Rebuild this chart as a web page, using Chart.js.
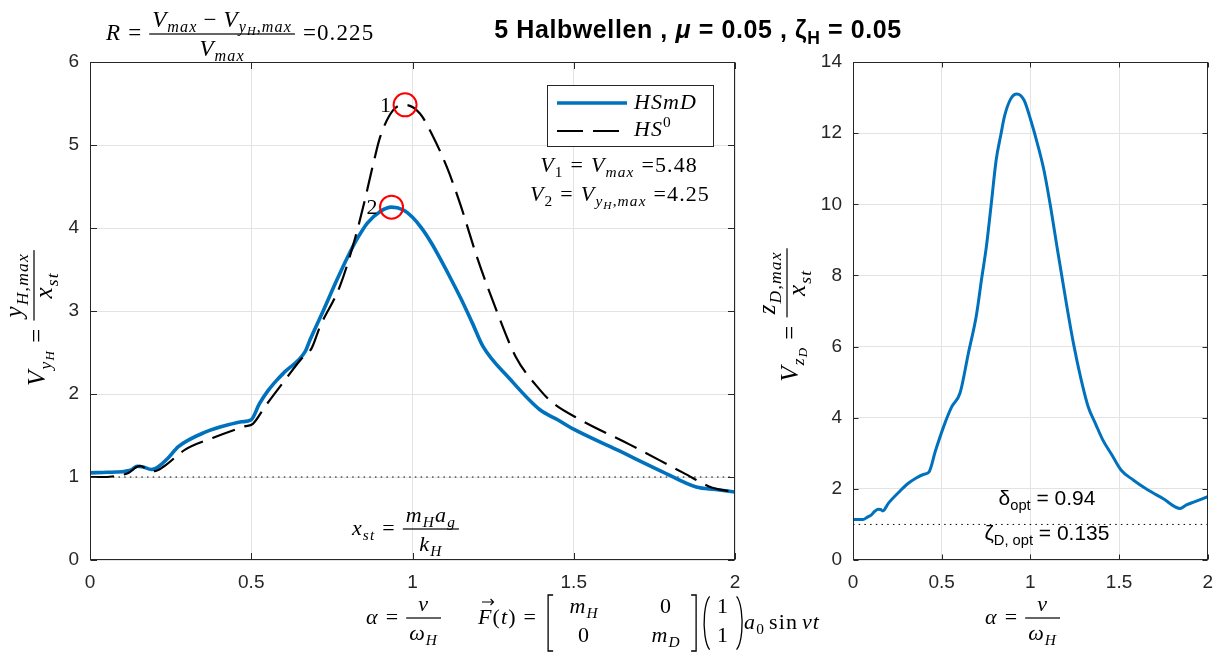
<!DOCTYPE html>
<html>
<head>
<meta charset="utf-8">
<script src="https://cdn.jsdelivr.net/npm/chart.js@4.4.1/dist/chart.umd.min.js"></script>
<style>
  html, body { margin: 0; padding: 0; background: #fff; }
  #wrap { position: relative; width: 1224px; height: 655px; }
  #wrap canvas { position: absolute; left: 0; top: 0; }
</style>
</head>
<body>
<div id="wrap">
  <canvas id="left" width="1224" height="655"></canvas>
  <canvas id="right" width="1224" height="655"></canvas>
</div>
<script>
// frequency ratio alpha = nu / omega_H and amplification of the main structure
const alphaHSmD = [0, 0.04, 0.08, 0.11, 0.13, 0.146, 0.165, 0.19, 0.207, 0.24, 0.274, 0.357, 0.44, 0.47, 0.50,
  0.525, 0.552, 0.58, 0.605, 0.667, 0.682, 0.724, 0.765, 0.80, 0.83, 0.86, 0.90, 0.935, 0.97, 1.00, 1.03,
  1.06, 1.09, 1.12, 1.15, 1.185, 1.219, 1.30, 1.395, 1.45, 1.498, 1.633, 1.777, 1.88, 1.94, 2.0];
const vHSmD = [1.05, 1.055, 1.06, 1.07, 1.09, 1.13, 1.12, 1.09, 1.11, 1.22, 1.365, 1.54, 1.64, 1.665, 1.69,
  1.88, 2.04, 2.17, 2.27, 2.51, 2.65, 3.01, 3.37, 3.66, 3.88, 4.06, 4.20, 4.251, 4.22, 4.13, 3.99,
  3.81, 3.60, 3.38, 3.15, 2.86, 2.57, 2.19, 1.81, 1.69, 1.58, 1.33, 1.06, 0.88, 0.85, 0.82];

// same structure without damper
const alphaHS0 = [0, 0.05, 0.09, 0.12, 0.14, 0.155, 0.17, 0.185, 0.20, 0.23, 0.295, 0.38, 0.48, 0.505,
  0.543, 0.605, 0.657, 0.687, 0.713, 0.775, 0.82, 0.85, 0.88, 0.90, 0.94, 0.977, 1.023, 1.064, 1.107,
  1.147, 1.20, 1.26, 1.32, 1.395, 1.436, 1.52, 1.674, 1.84, 1.93, 2.0];
const vHS0 = [1.0, 1.0, 1.02, 1.05, 1.11, 1.135, 1.11, 1.07, 1.07, 1.13, 1.33, 1.47, 1.61, 1.64,
  1.85, 2.17, 2.43, 2.55, 2.81, 3.30, 3.85, 4.30, 4.80, 5.10, 5.42, 5.484, 5.38, 5.10, 4.73,
  4.30, 3.65, 3.01, 2.45, 2.05, 1.89, 1.69, 1.39, 1.05, 0.87, 0.82];

// damper mass amplification
const alphaZD = [0, 0.057, 0.08, 0.104, 0.125, 0.141, 0.155, 0.168, 0.2, 0.261, 0.31, 0.354, 0.40, 0.428,
  0.465, 0.511, 0.557, 0.604, 0.65, 0.696, 0.725, 0.752, 0.78, 0.807, 0.835, 0.854, 0.89, 0.924, 0.964,
  1.002, 1.04, 1.076, 1.115, 1.15, 1.20, 1.243, 1.285, 1.326, 1.37, 1.409, 1.46, 1.511, 1.58, 1.65,
  1.75, 1.844, 1.88, 1.928, 2.0];
const vZD = [1.14, 1.14, 1.2, 1.27, 1.38, 1.43, 1.42, 1.38, 1.6, 1.92, 2.15, 2.30, 2.41, 2.47,
  3.07, 3.75, 4.31, 4.70, 5.8, 6.89, 7.9, 8.81, 10.03, 11.24, 11.99, 12.47, 12.97, 13.10, 12.93,
  12.37, 11.7, 10.97, 9.9, 8.81, 7.3, 6.09, 5.1, 4.31, 3.8, 3.37, 2.95, 2.53, 2.25, 2.01,
  1.72, 1.45, 1.55, 1.64, 1.78];

// static reference line V = 1
const refAlpha = [0, 2];
const refV = [1, 1];

// peaks: 1 = without damper, 2 = with damper
const peakAlpha = [0.977, 0.935];
const peakV = [5.484, 4.251];
const peakNames = ['1', '2'];

const ticksAlpha = [0, 0.5, 1, 1.5, 2];
const ticksVyH = [0, 1, 2, 3, 4, 5, 6];
const ticksVzD = [0, 2, 4, 6, 8, 10, 12, 14];

const halfWaves = 5;
const mu = 0.05;
const zetaH = 0.05;
const deltaOpt = 0.94;
const zetaDOpt = 0.135;

const blue = '#0072BD';
const ink = '#262626';
const gridGray = '#e3e3e3';
const serif = '"Liberation Serif", "Times New Roman", serif';
const sans = '"Liberation Sans", Arial, sans-serif';

const pts = (xs, ys) => xs.map((x, i) => ({ x, y: ys[i] }));

// ---- small math-text helpers (canvas text runs with sub/superscripts) ----
const I = (t, lv = 0) => ({ t, it: true, lv });
const U = (t, lv = 0) => ({ t, it: false, lv });
const SP = w => ({ sp: w });

function runs(ctx, list, x, y, base, draw) {
  let cx = x;
  ctx.letterSpacing = (base.track || 0) + 'px';
  list.forEach(r => {
    if (r.sp) { cx += r.sp; return; }
    const lv = r.lv || 0;
    const k = lv === 0 ? 1 : (lv === 2 ? 0.52 : 0.7);
    const dy = lv === 1 ? 0.22 : lv === 2 ? 0.36 : lv === -1 ? -0.4 : 0;
    ctx.font = (r.it ? 'italic ' : '') + (base.bold ? 'bold ' : '') +
      (base.size * k).toFixed(1) + 'px ' + (r.fam || base.fam);
    if (draw) ctx.fillText(r.t, cx, y + dy * base.size);
    cx += ctx.measureText(r.t).width;
  });
  ctx.letterSpacing = '0px';
  return cx - x;
}

const DISPLAY = { lift: 6, up: 7, down: 22 };

function fracWidth(ctx, num, den, base) {
  return Math.max(runs(ctx, num, 0, 0, base, false), runs(ctx, den, 0, 0, base, false)) + 6;
}

function frac(ctx, num, den, x, bar, base, geo = DISPLAY) {
  const wn = runs(ctx, num, 0, 0, base, false);
  const wd = runs(ctx, den, 0, 0, base, false);
  const w = Math.max(wn, wd) + 6;
  runs(ctx, num, x + (w - wn) / 2, bar - geo.up, base, true);
  runs(ctx, den, x + (w - wd) / 2, bar + geo.down, base, true);
  ctx.fillRect(x, bar - 0.6, w, 1.2);
  return w;
}

// "lhs = num/den" on one baseline, returns total width
function eqFrac(ctx, lhs, num, den, x, baseline, base, draw, geo = DISPLAY) {
  const wl = runs(ctx, lhs, x, baseline, base, draw);
  const wf = fracWidth(ctx, num, den, base);
  if (draw) frac(ctx, num, den, x + wl, baseline - geo.lift, base, geo);
  return wl + wf;
}

const math = { size: 22, fam: serif, track: 1.1 };
const mathR = { size: 23, fam: serif, track: 1.1 };
const mathY = { size: 25, fam: serif, track: 1.2 };
const YGEO = { lift: 11, up: 12, down: 18 };
const EQ = [SP(7), U('='), SP(7)];

// ---- axes frame with inward ticks on all four sides ----
function framePlugin(len) {
  return {
    id: 'frame',
    afterDatasetsDraw(chart) {
      const { ctx, chartArea: a, scales } = chart;
      const L = Math.round(a.left) + 0.5, R = Math.round(a.right) - 0.5;
      const T = Math.round(a.top) + 0.5, B = Math.round(a.bottom) - 0.5;
      ctx.save();
      ctx.strokeStyle = ink;
      ctx.lineWidth = 1;
      ctx.setLineDash([]);
      ctx.beginPath();
      scales.x.ticks.forEach(t => {
        const p = Math.round(scales.x.getPixelForValue(t.value)) + 0.5;
        ctx.moveTo(p, B); ctx.lineTo(p, B - len);
        ctx.moveTo(p, T); ctx.lineTo(p, T + len);
      });
      scales.y.ticks.forEach(t => {
        const p = Math.round(scales.y.getPixelForValue(t.value)) + 0.5;
        ctx.moveTo(L, p); ctx.lineTo(L + len, p);
        ctx.moveTo(R, p); ctx.lineTo(R - len, p);
      });
      ctx.stroke();
      ctx.strokeRect(L, T, R - L, B - T);
      ctx.restore();
    }
  };
}

function overlay(drawFn) {
  return { id: 'overlay', afterDraw(chart) { chart.ctx.save(); drawFn(chart.ctx, chart); chart.ctx.restore(); } };
}

function axis(ticksArr, min, max, fit) {
  return {
    type: 'linear',
    min, max,
    afterBuildTicks: ax => { ax.ticks = ticksArr.map(v => ({ value: v })); },
    afterFit: fit,
    ticks: {
      autoSkip: false, maxRotation: 0, padding: 11,
      color: ink,
      font: { family: 'Liberation Sans', size: 19 },
      callback: v => String(v)
    },
    grid: { color: gridGray, lineWidth: 1, drawTicks: false },
    border: { display: false }
  };
}

const baseOptions = {
  responsive: false,
  animation: false,
  devicePixelRatio: 1,
  plugins: { legend: { display: false }, tooltip: { enabled: false }, title: { display: false } },
  elements: { point: { radius: 0 } }
};

// ---- left axes: main structure ----
new Chart(document.getElementById('left'), {
  type: 'line',
  data: {
    datasets: [
      {
        label: 'peaks', data: pts(peakAlpha, peakV), showLine: false,
        pointRadius: 11.5, pointBorderColor: '#ff0000', pointBorderWidth: 2,
        pointBackgroundColor: 'rgba(0,0,0,0)'
      },
      {
        label: 'HS0', data: pts(alphaHS0, vHS0), borderColor: '#000', borderWidth: 2.2,
        borderDash: [24, 10], cubicInterpolationMode: 'monotone', pointRadius: 0
      },
      {
        label: 'HSmD', data: pts(alphaHSmD, vHSmD), borderColor: blue, borderWidth: 3.6,
        cubicInterpolationMode: 'monotone', pointRadius: 0
      },
      {
        label: 'ref', data: pts(refAlpha, refV), borderColor: '#000', borderWidth: 1,
        borderDash: [1.5, 4.2], pointRadius: 0
      }
    ]
  },
  options: {
    ...baseOptions,
    layout: { padding: { left: 0, right: 489, top: 62, bottom: 0 } },
    scales: {
      x: axis(ticksAlpha, 0, 2, ax => { ax.height = 95; }),
      y: axis(ticksVyH, 0, 6, ax => { ax.width = 90; })
    }
  },
  plugins: [framePlugin(6.5), overlay((ctx, chart) => {
    const { x, y } = chart.scales;
    ctx.fillStyle = '#000';
    ctx.textBaseline = 'alphabetic';

    // peak numbers next to the circles
    ctx.font = '22px ' + serif;
    ctx.textAlign = 'right';
    peakNames.forEach((n, i) => {
      ctx.fillText(n, x.getPixelForValue(peakAlpha[i]) - 14, y.getPixelForValue(peakV[i]) + 7);
    });
    ctx.textAlign = 'left';

    // legend
    const lx = 547, ly = 85, lw = 166, lh = 61;
    ctx.fillStyle = '#fff';
    ctx.fillRect(lx, ly, lw, lh);
    ctx.strokeStyle = ink; ctx.lineWidth = 1;
    ctx.strokeRect(lx + 0.5, ly + 0.5, lw, lh);
    ctx.lineWidth = 3.6; ctx.strokeStyle = blue;
    ctx.beginPath(); ctx.moveTo(557, 103); ctx.lineTo(627, 103); ctx.stroke();
    ctx.lineWidth = 2.2; ctx.strokeStyle = '#000'; ctx.setLineDash([26, 10]);
    ctx.beginPath(); ctx.moveTo(557, 131); ctx.lineTo(627, 131); ctx.stroke();
    ctx.setLineDash([]);
    ctx.fillStyle = '#000';
    runs(ctx, [I('HSmD')], 634, 109, math, true);
    runs(ctx, [I('HS'), U('0', -1)], 634, 136, math, true);

    // peak values
    const Vmax = [I('V'), I('max', 1)];
    const VyHmax = [I('V'), I('y', 1), I('H', 2), U(',', 1), I('max', 1)];
    const line1 = [I('V'), U('1', 1), ...EQ, ...Vmax, ...EQ.slice(0, 2), U(peakV[0].toFixed(2))];
    const line2 = [I('V'), U('2', 1), ...EQ, ...VyHmax, ...EQ.slice(0, 2), U(peakV[1].toFixed(2))];
    const w1 = runs(ctx, line1, 0, 0, math, false);
    const w2 = runs(ctx, line2, 0, 0, math, false);
    runs(ctx, line1, 619 - w1 / 2, 172, math, true);
    runs(ctx, line2, 620 - w2 / 2, 201, math, true);

    // reduction ratio R
    const ratio = (peakV[0] - peakV[1]) / peakV[0];
    let cx = 106;
    cx += runs(ctx, [I('R'), ...EQ], cx, 40, mathR, true);
    cx += frac(ctx, [...Vmax, SP(6), U('\u2212'), SP(6), ...VyHmax], Vmax, cx, 34, mathR);
    runs(ctx, [SP(8), U('='), U(ratio.toFixed(3))], cx, 40, mathR, true);

    // static deflection
    eqFrac(ctx, [I('x'), I('st', 1), ...EQ], [I('m'), I('H', 1), I('a'), I('g', 1)],
      [I('k'), I('H', 1)], 352, 535, math, true);

    // y axis label, rotated
    const lhsL = [I('V'), I('y', 1), I('H', 2), ...EQ];
    const numL = [I('y'), I('H', 1), U(',', 1), I('max', 1)];
    const denL = [I('x'), I('st', 1)];
    const wy = eqFrac(ctx, lhsL, numL, denL, 0, 0, mathY, false, YGEO);
    ctx.translate(45, 318);
    ctx.rotate(-Math.PI / 2);
    eqFrac(ctx, lhsL, numL, denL, -wy / 2, 0, mathY, true, YGEO);
    ctx.setTransform(1, 0, 0, 1, 0, 0);

    // x axis label and load vector
    eqFrac(ctx, [I('\u03b1'), ...EQ], [I('\u03bd')], [I('\u03c9'), I('H', 1)], 366, 624, math, true);

    cx = 478;
    const fw = runs(ctx, [I('F')], cx, 624, math, true);
    ctx.strokeStyle = '#000'; ctx.lineWidth = 1.1;
    ctx.beginPath(); ctx.moveTo(cx + 4, 602); ctx.lineTo(cx + fw + 1, 602);
    ctx.moveTo(cx + fw - 2, 599); ctx.lineTo(cx + fw + 1, 602); ctx.lineTo(cx + fw - 2, 605);
    ctx.stroke();
    cx += fw;
    cx += runs(ctx, [U('('), I('t'), U(')'), ...EQ], cx, 624, math, true);

    // mass matrix brackets
    const top = 595, bot = 651;
    ctx.lineWidth = 1.3;
    ctx.beginPath();
    ctx.moveTo(cx + 9, top); ctx.lineTo(cx + 4, top); ctx.lineTo(cx + 4, bot); ctx.lineTo(cx + 9, bot);
    ctx.stroke();
    const c1 = cx + 40, c2 = cx + 122;
    const row1 = 613, row2 = 642;
    const put = (list, cxm, by) => {
      const w = runs(ctx, list, 0, 0, math, false);
      runs(ctx, list, cxm - w / 2, by, math, true);
    };
    put([I('m'), I('H', 1)], c1, row1);
    put([U('0')], c2, row1);
    put([U('0')], c1, row2);
    put([I('m'), I('D', 1)], c2, row2);
    const rb = cx + 152;
    ctx.beginPath();
    ctx.moveTo(rb - 5, top); ctx.lineTo(rb, top); ctx.lineTo(rb, bot); ctx.lineTo(rb - 5, bot);
    ctx.stroke();

    // unit vector in parentheses
    const pl = rb + 8, pr = rb + 46;
    ctx.beginPath();
    ctx.ellipse(pl + 8, (top + bot) / 2, 8, (bot - top) / 2, 0, Math.PI * 0.6, Math.PI * 1.4);
    ctx.stroke();
    ctx.beginPath();
    ctx.ellipse(pr - 8, (top + bot) / 2, 8, (bot - top) / 2, 0, -Math.PI * 0.4, Math.PI * 0.4);
    ctx.stroke();
    put([U('1')], (pl + pr) / 2, row1);
    put([U('1')], (pl + pr) / 2, row2);
    runs(ctx, [I('a'), U('0', 1), SP(4), U('sin'), SP(4), I('\u03bd'), I('t')], pr + 2, 629, math, true);

    // figure title
    const tb = { size: 25, fam: sans, bold: true, track: 0.6 };
    const title = [U(halfWaves + ' Halbwellen , '), I('\u03bc'), U(' = ' + mu.toFixed(2) + ' , '),
      U('\u03b6'), U('H', 1), U(' = ' + zetaH.toFixed(2))];
    const tw = runs(ctx, title, 0, 0, tb, false);
    runs(ctx, title, 698 - tw / 2, 38, tb, true);
  })]
});

// ---- right axes: damper mass ----
new Chart(document.getElementById('right'), {
  type: 'line',
  data: {
    datasets: [
      {
        label: 'zD', data: pts(alphaZD, vZD), borderColor: blue, borderWidth: 3,
        cubicInterpolationMode: 'monotone', pointRadius: 0
      },
      {
        label: 'ref', data: pts(refAlpha, refV), borderColor: '#000', borderWidth: 1,
        borderDash: [1.5, 4.2], pointRadius: 0
      }
    ]
  },
  options: {
    ...baseOptions,
    layout: { padding: { left: 763, right: 11, top: 62, bottom: 0 } },
    scales: {
      x: axis(ticksAlpha, 0, 2, ax => { ax.height = 95; }),
      y: axis(ticksVzD, 0, 14, ax => { ax.width = 90; })
    }
  },
  plugins: [framePlugin(5), overlay(ctx => {
    ctx.fillStyle = '#000';
    ctx.textAlign = 'left';
    ctx.textBaseline = 'alphabetic';

    // optimal damper parameters
    const tx = { size: 21, fam: sans };
    const d = [U('\u03b4'), U('opt', 1), U(' = ' + deltaOpt.toFixed(2))];
    const z = [U('\u03b6'), U('D, opt', 1), U(' = ' + zetaDOpt.toFixed(3))];
    const wd = runs(ctx, d, 0, 0, tx, false);
    const wz = runs(ctx, z, 0, 0, tx, false);
    runs(ctx, d, 1047 - wd / 2, 505, tx, true);
    runs(ctx, z, 1047 - wz / 2, 540, tx, true);

    // y axis label, rotated
    const lhsR = [I('V'), I('z', 1), I('D', 2), ...EQ];
    const numR = [I('z'), I('D', 1), U(',', 1), I('max', 1)];
    const denR = [I('x'), I('st', 1)];
    const wy = eqFrac(ctx, lhsR, numR, denR, 0, 0, mathY, false, YGEO);
    ctx.translate(798, 315);
    ctx.rotate(-Math.PI / 2);
    eqFrac(ctx, lhsR, numR, denR, -wy / 2, 0, mathY, true, YGEO);
    ctx.setTransform(1, 0, 0, 1, 0, 0);

    // x axis label
    eqFrac(ctx, [I('\u03b1'), ...EQ], [I('\u03bd')], [I('\u03c9'), I('H', 1)], 985, 624, math, true);
  })]
});
</script>
</body>
</html>
